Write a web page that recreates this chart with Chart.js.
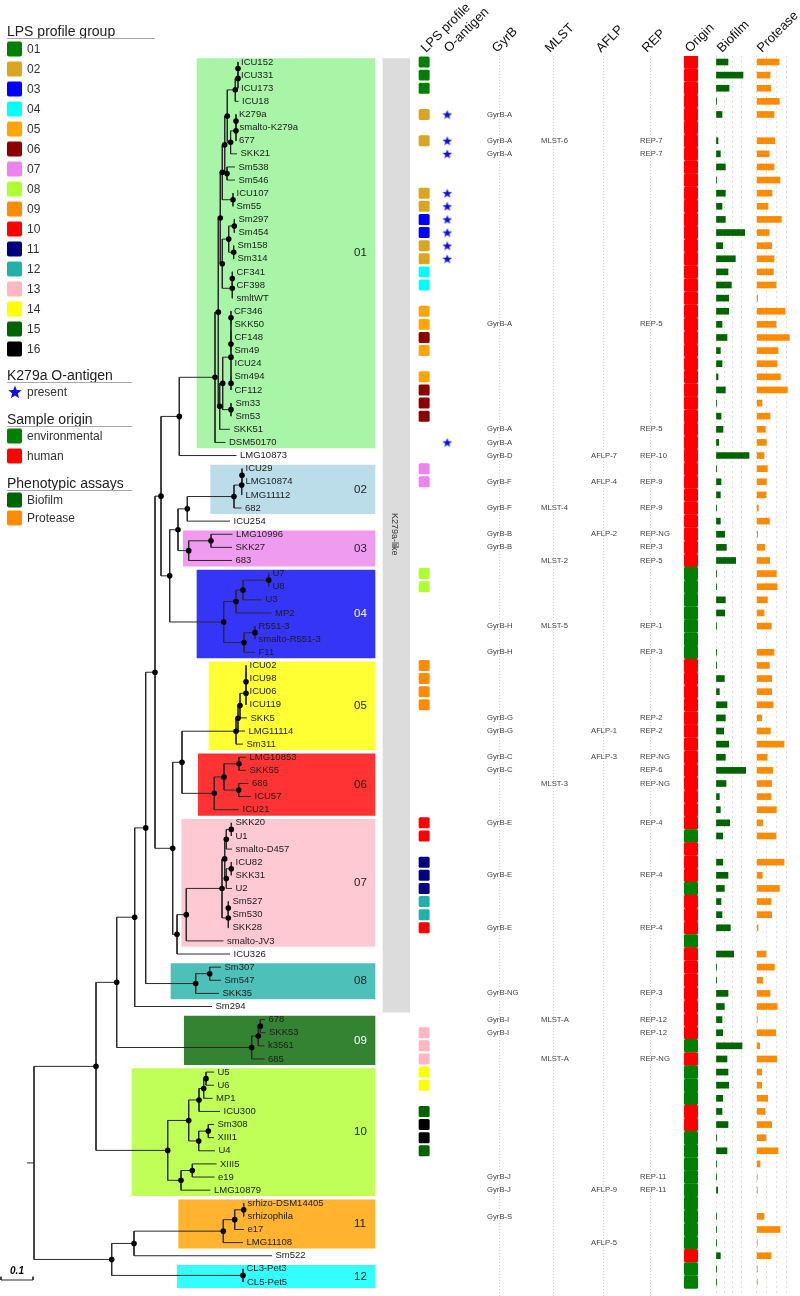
<!DOCTYPE html>
<html>
<head>
<meta charset="utf-8">
<title>Stenotrophomonas phylogeny</title>
<script src="https://cdn.jsdelivr.net/npm/chart.js@4"></script>
<style>
  html, body { margin: 0; padding: 0; background: #fff; }
  canvas { display: block; }
</style>
</head>
<body>
<canvas id="chart" width="800" height="1296"></canvas>
<script>
// Taxa, top to bottom. Row number = index
const taxa = ['ICU152','ICU331','ICU173','ICU18','K279a','smalto-K279a','677','SKK21','Sm538','Sm546',
  'ICU107','Sm55','Sm297','Sm454','Sm158','Sm314','CF341','CF398','smltWT','CF346',
  'SKK50','CF148','Sm49','ICU24','Sm494','CF112','Sm33','Sm53','SKK51','DSM50170',
  'LMG10873','ICU29','LMG10874','LMG11112','682','ICU254','LMG10996','SKK27','683','U7',
  'U8','U3','MP2','R551-3','smalto-R551-3','F11','ICU02','ICU98','ICU06','ICU119',
  'SKK5','LMG11114','Sm311','LMG10853','SKK55','686','ICU57','ICU21','SKK20','U1',
  'smalto-D457','ICU82','SKK31','U2','Sm527','Sm530','SKK28','smalto-JV3','ICU326','Sm307',
  'Sm547','SKK35','Sm294','678','SKK53','k3561','685','U5','U6','MP1',
  'ICU300','Sm308','XIII1','U4','XIII5','e19','LMG10879','srhizo-DSM14405','srhizophila','e17',
  'LMG11108','Sm522','CL3-Pet3','CL5-Pet5'];

// Distance from the root of each tip (32 units = 0.1 on the scale bar)
const tipDepth = [203.5,203.5,203.5,204.5,201.5,202,201.5,203,201,201,
  199,199,201,201,200,200,199,199,199,196.5,
  197,197,197,197,197,197,198,198,196,191.5,
  202.5,208,208,208,207.5,196,198.5,198,198,235,
  235,228,237.5,221,221,221,212,212,212,212,
  213,211,209,212,212,214.5,217,205,198,198,
  198,198,198,198,195,195,195,189.5,196,187,
  187,185,178,231,231.5,230.5,230.5,180,180,178.5,
  186,180,180,181,182.5,180.5,176.5,210,210,210,
  209,238,209,209.5];

// Tree, as [node depth, ...children]; a plain number is a tip row
const cfPair = [197, [197, 19, 20], [197, 21, 22]];
const icuPair = [212, 46, 47];
const icuTop = [193.3, [201.3, [204, [204, 0, 1], 2], 3], [196.6, [202, [202, 4, 5], 6], 7]];
const smUpper = [190.7, icuTop, [193, 8, 9]];
const smMid = [188.3, smUpper, [199, 10, 11]];
const smLow = [188.3, [194.7, [200.3, 12, 13], [199.7, 14, 15]], [198.3, [198.3, 16, 17], 18]];
const cfComb = [197, cfPair, 23, [197, 24, 25]];
const group01 = [181, [184.3, [186.3, smMid, smLow], [185.7, [188.7, cfComb, [197, 26, 27]], 28]], 29];
const group02 = [200, [207.7, [208, 31, 32], 33], 34];
const group03 = [154.7, [177, 36, 37], 38];
const group04 = [189.7, [202, [209, [234.7, 39, 40], 41], 42], [210, [221, 43, 44], 45]];
const group05 = [202, [204, [206, [212, [212, icuPair, 48], 49], 50], 51], 52];
const group06 = [180.3, [190, [205, 53, 54], [204.7, 55, 56]], 57];
const group07 = [152.3, [188, [190.7, [192.3, [197.3, 58, 59], 60], [192.3, [197.3, 61, 62], 63]],
  [194.3, [194.3, 64, 65], 66]], 67];
const group08 = [161.7, [175.7, 69, 70], 71];
const group09 = [217.7, [224.3, [226.3, 73, 74], 75], 76];
const group10 = [133.7, [154.7, [165, [169.7, [172, 77, 78], 79], 80], [164.7, [174.3, 81, 82], 83]],
  [147, [158.3, 84, 85], 86]];
const group11 = [189.3, [200.7, [209.7, 87, 88], 89], 90];
const group12 = [209, 92, 93];
const upperTree = [127, [145.3, group01, 30], [135.7, [144, [153.3, group02, 35], group03], group04]];
const lowerTree = [138.7, [148, group05, group06], [143, group07, 68]];
const treeRoot = [0,
  [62, [82.7, [100.7, [111.7, [121, upperTree, lowerTree], group08], 72], group09], group10],
  [77.7, [100, group11, 91], group12]];
// nodes drawn without a support dot
const noDotNodes = [treeRoot, cfPair, icuPair];

// Clades
const cladeLabels = ['01','02','03','04','05','06','07','08','09','10','11','12'];
const cladeFirst = [0,31,36,39,46,53,58,69,73,77,87,92];
const cladeLast = [29,34,38,45,52,57,67,71,76,86,90,93];
const cladeStart = [163,176.7,149.3,163,175,164.3,147.7,137,150.3,98,144.7,143.3];
const cladeColors = ['#a8f5a8','#bbdde9','#ef9bef','#3535f8','#ffff33','#ff3333','#ffc9d3','#4dc1b9','#338333','#bfff58','#ffb32e','#33ffff'];

// LPS profile group
const lpsLabels = ['01','02','03','04','05','06','07','08','09','10','11','12','13','14','15','16'];
const lpsColors = ['#008000','#DAA520','#0000FF','#00FFFF','#FFA500','#8B0000','#EE82EE','#ADFF2F','#FF8C00','#FF0000','#000080','#20B2AA','#FFB6C1','#FFFF00','#006400','#000000'];
const lpsRows = [0,1,2,4,6,10,11,12,13,14,15,16,17,19,20,21,22,24,25,26,27,31,32,39,40,46,47,48,49,58,59,61,62,63,64,65,66,74,75,76,77,78,80,81,82,83];
const lpsGroups = [1,1,1,2,2,2,2,3,3,2,2,4,4,5,5,6,5,5,6,6,6,7,7,8,8,9,9,9,9,10,10,11,11,11,12,12,10,13,13,13,14,14,15,16,16,15];

// K279a O-antigen
const antigenRows = [4,6,7,10,11,12,13,14,15,29];

// Typing columns
const gyrbRows = [4,6,7,20,28,29,30,32,34,36,37,43,45,50,51,53,54,58,62,66,71,73,74,85,86,88];
const gyrbTypes = ['A','A','A','A','A','A','D','F','F','B','B','H','H','G','G','C','C','E','E','E','NG','I','I','J','J','S'];
const mlstRows = [6,34,38,43,55,73,76];
const mlstTypes = ['6','4','2','5','3','A','A'];
const aflpRows = [30,32,36,51,53,86,90];
const aflpTypes = ['7','4','2','1','3','9','5'];
const repRows = [6,7,20,28,30,32,34,36,37,38,43,45,50,51,53,54,55,58,62,66,71,73,74,76,85,86];
const repTypes = ['7','7','5','5','10','9','9','NG','3','5','1','3','2','2','NG','6','NG','4','4','4','3','12','12','NG','11','11'];

// Sample origin: everything else is human
const environmentalRows = [39,40,41,42,43,44,45,59,63,67,75,77,78,79,82,83,84,85,86,87,88,89,90,92,93];

// Phenotypic assays, one value per row
const biofilm = [36,81,39,2,18,null,6,13,28,2,28,18,28,86,20,58,36,46,38,38,
  18,33,13,18,6,28,2,15,21,8,99,2,15,13,2,13,26,31,59,2,
  2,28,26,2,null,2,1,25,10,33,28,23,38,28,89,30,10,13,41,20,
  null,20,36,25,15,18,43,null,53,2,2,36,25,18,20,78,33,36,38,20,
  18,36,2,33,2,2,5,null,2,2,2,13,2,2];
const protease = [67,40,42,68,52,null,54,37,52,70,46,34,74,37,45,52,50,58,3,85,
  58,98,64,61,71,92,16,40,26,29,22,32,29,28,5,38,3,24,39,59,
  61,32,22,44,null,52,38,45,45,49,15,41,82,31,48,45,43,59,18,58,
  null,82,17,68,43,45,4,null,28,53,18,40,61,2,57,9,60,15,15,33,
  25,45,28,64,10,2,2,null,22,70,2,43,2,2];
const biofilmTicks = [0,25,50,75];
const proteaseTicks = [0,30,60,90];

const headers = ['LPS profile','O-antigen','GyrB','MLST','AFLP','REP','Origin','Biofilm','Protease'];
const headerX = [426,449,497,550,601,647,690,722,762];

const originColors = { human: '#FF0000', environmental: '#008000' };
const assayColors = { Biofilm: '#006400', Protease: '#FF8C00' };

// layout
const font = '"Liberation Sans", Arial, sans-serif';
const rowHeight = 13.118, firstRowPx = 62, areaTop = 56, chartH = 1296;
const lpsSpan = [419, 429.3], originSpan = [684.3, 697.7], starX = 447.3;
const typeX = { gyrb: 487, mlst: 541, aflp: 591, rep: 640 };
const typeGrid = [499.3, 553.7, 603, 650.7];
const cladeRight = 341, bandSpan = [349, 375.7];
const boxAbove = 3.5 / rowHeight, boxBelow = 5.6 / rowHeight;

// Walk the tree, collecting branch segments and support dots
const branchPoints = [], nodePoints = [];
function addSegment(x1, y1, x2, y2) {
  branchPoints.push({ x: x1, y: y1 }, { x: x2, y: y2 }, { x: null, y: null });
}
function walk(n) {
  if (typeof n === 'number') return { d: tipDepth[n], y: n };
  const kids = n.slice(1).map(walk);
  const y = (kids[0].y + kids[kids.length - 1].y) / 2;
  addSegment(n[0], kids[0].y, n[0], kids[kids.length - 1].y);
  kids.forEach(k => addSegment(n[0], k.y, k.d, k.y));
  if (!noDotNodes.includes(n)) nodePoints.push({ x: n[0], y });
  return { d: n[0], y };
}
const rootY = walk(treeRoot).y;
addSegment(-7, rootY, 0, rootY);

// Scale bar
const scaleBarX = [-33, -1], scaleBarRow = 92.85;
addSegment(scaleBarX[0], scaleBarRow, scaleBarX[1], scaleBarRow);
addSegment(scaleBarX[0], scaleBarRow - 0.25, scaleBarX[0], scaleBarRow);
addSegment(scaleBarX[1], scaleBarRow - 0.25, scaleBarX[1], scaleBarRow);

function makeStar(size, color) {
  const c = document.createElement('canvas');
  c.width = c.height = size;
  const g = c.getContext('2d');
  g.fillStyle = color;
  g.beginPath();
  for (let i = 0; i < 10; i++) {
    const r = i % 2 ? size * 0.21 : size * 0.5;
    const a = -Math.PI / 2 + i * Math.PI / 5;
    g.lineTo(size / 2 + r * Math.cos(a), size / 2 + 0.5 + r * Math.sin(a));
  }
  g.closePath();
  g.fill();
  return c;
}

function rowBars(xAxisID, data, backgroundColor, barThickness, borderRadius, order) {
  return { type: 'bar', indexAxis: 'y', xAxisID, yAxisID: 'y', data, backgroundColor, barThickness, borderRadius,
    borderSkipped: false, grouped: false, order };
}

const cladeSets = cladeLabels.map((c, i) => {
  const top = cladeFirst[i] - boxAbove, bottom = cladeLast[i] + boxBelow;
  return rowBars('x', [{ x: [cladeStart[i], cladeRight], y: (top + bottom) / 2 }], cladeColors[i], (bottom - top) * rowHeight, 0, 50);
});
const bandTop = 0 - boxAbove, bandBottom = 72 + boxBelow;
const bandSet = rowBars('x', [{ x: bandSpan, y: (bandTop + bandBottom) / 2 }], '#dcdcdc', (bandBottom - bandTop) * rowHeight, 0, 50);

const datasets = [
  { type: 'scatter', xAxisID: 'col', yAxisID: 'y', order: 1, pointStyle: makeStar(10, '#0f0fee'), pointRadius: 5,
    data: antigenRows.map(r => ({ x: starX, y: r })) },
  { type: 'scatter', xAxisID: 'x', yAxisID: 'y', order: 5, pointRadius: 2.8, pointBackgroundColor: '#000', pointBorderWidth: 0,
    data: nodePoints },
  { type: 'scatter', xAxisID: 'x', yAxisID: 'y', order: 10, showLine: true, spanGaps: false, pointRadius: 0,
    borderColor: '#2a2a2a', borderWidth: 1, data: branchPoints },
  rowBars('col', lpsRows.map(r => ({ x: lpsSpan, y: r })), lpsGroups.map(g => lpsColors[g - 1]), 10.3, 1.5, 20),
  rowBars('col', taxa.map((t, r) => ({ x: originSpan, y: r })),
    taxa.map((t, r) => environmentalRows.includes(r) ? originColors.environmental : originColors.human), 12.8, 1.5, 20),
  rowBars('bio', biofilm.map((v, r) => ({ x: v, y: r })), assayColors.Biofilm, 6, 0, 20),
  rowBars('prot', protease.map((v, r) => ({ x: v, y: r })), assayColors.Protease, 6, 0, 20),
  bandSet,
  ...cladeSets
];

// hidden x axes that only place columns and draw the column guides
function guideAxis(min, max, ticks, color, dash) {
  return { type: 'linear', axis: 'x', position: 'top', min, max, offset: false,
    grid: { color, drawTicks: false, offset: false, lineWidth: 1 },
    border: { display: false, dash },
    ticks: { display: false },
    afterBuildTicks: axis => { axis.ticks = ticks.map(value => ({ value })); } };
}

const labelsPlugin = {
  id: 'labels',
  afterDatasetsDraw(chart) {
    const { ctx, scales } = chart;
    const px = scales.x, py = scales.y, col = scales.col;
    ctx.save();
    ctx.textBaseline = 'middle';
    ctx.textAlign = 'left';

    // tip labels
    ctx.fillStyle = '#1c1c1c';
    ctx.font = '9.5px ' + font;
    taxa.forEach((t, r) => ctx.fillText(t, px.getPixelForValue(tipDepth[r]) + 3.5, py.getPixelForValue(r)));

    // clade numbers
    ctx.font = '11.5px ' + font;
    cladeLabels.forEach((c, i) => {
      ctx.fillStyle = (c === '04' || c === '09') ? '#fff' : '#222';
      const mid = (cladeFirst[i] - boxAbove + cladeLast[i] + boxBelow) / 2;
      ctx.fillText(c, px.getPixelForValue(320), py.getPixelForValue(mid));
    });

    // typing columns
    ctx.fillStyle = '#444';
    ctx.font = '7.7px ' + font;
    gyrbRows.forEach((r, i) => ctx.fillText('GyrB-' + gyrbTypes[i], col.getPixelForValue(typeX.gyrb), py.getPixelForValue(r)));
    mlstRows.forEach((r, i) => ctx.fillText('MLST-' + mlstTypes[i], col.getPixelForValue(typeX.mlst), py.getPixelForValue(r)));
    aflpRows.forEach((r, i) => ctx.fillText('AFLP-' + aflpTypes[i], col.getPixelForValue(typeX.aflp), py.getPixelForValue(r)));
    repRows.forEach((r, i) => ctx.fillText('REP-' + repTypes[i], col.getPixelForValue(typeX.rep), py.getPixelForValue(r)));

    // band label
    ctx.save();
    ctx.translate(col.getPixelForValue(394), py.getPixelForValue(36));
    ctx.rotate(Math.PI / 2);
    ctx.textAlign = 'center';
    ctx.fillStyle = '#333';
    ctx.font = '9px ' + font;
    ctx.fillText('K279a-like', 0, 0);
    ctx.restore();

    // column headers
    ctx.fillStyle = '#111';
    ctx.font = '13px ' + font;
    ctx.textBaseline = 'alphabetic';
    headers.forEach((h, i) => {
      ctx.save();
      ctx.translate(col.getPixelForValue(headerX[i]), 53);
      ctx.rotate(-Math.PI / 4);
      ctx.fillText(h, 0, 0);
      ctx.restore();
    });

    // scale bar caption
    ctx.font = 'italic bold 10px ' + font;
    ctx.textAlign = 'center';
    ctx.fillStyle = '#000';
    ctx.textBaseline = 'middle';
    ctx.fillText('0.1', 17, 1271);

    drawLegend(ctx);
    ctx.restore();
  }
};

function legendTitle(ctx, text, baseline, right) {
  ctx.fillStyle = '#222';
  ctx.font = '14px ' + font;
  ctx.textBaseline = 'alphabetic';
  ctx.textAlign = 'left';
  ctx.fillText(text, 7, baseline);
  ctx.strokeStyle = '#aaa';
  ctx.lineWidth = 1;
  ctx.beginPath();
  ctx.moveTo(7, baseline + 2.5);
  ctx.lineTo(right, baseline + 2.5);
  ctx.stroke();
}
function legendSwatch(ctx, color, text, cy) {
  ctx.fillStyle = color;
  ctx.beginPath();
  ctx.roundRect(7, cy - 7.5, 15, 15, 2);
  ctx.fill();
  ctx.fillStyle = '#333';
  ctx.font = '12px ' + font;
  ctx.textBaseline = 'middle';
  ctx.fillText(text, 27, cy + 0.5);
}
function drawLegend(ctx) {
  legendTitle(ctx, 'LPS profile group', 36, 155);
  lpsLabels.forEach((l, i) => legendSwatch(ctx, lpsColors[i], l, 49 + i * 20));
  legendTitle(ctx, 'K279a O-antigen', 380, 132);
  ctx.drawImage(makeStar(14, '#0f0fee'), 8, 385);
  ctx.fillStyle = '#333';
  ctx.font = '12px ' + font;
  ctx.textBaseline = 'middle';
  ctx.fillText('present', 27, 393);
  legendTitle(ctx, 'Sample origin', 424, 132);
  legendSwatch(ctx, originColors.environmental, 'environmental', 436);
  legendSwatch(ctx, originColors.human, 'human', 456);
  legendTitle(ctx, 'Phenotypic assays', 488, 132);
  legendSwatch(ctx, assayColors.Biofilm, 'Biofilm', 500);
  legendSwatch(ctx, assayColors.Protease, 'Protease', 518);
}

new Chart(document.getElementById('chart'), {
  type: 'scatter',
  data: { datasets },
  plugins: [labelsPlugin],
  options: {
    responsive: false,
    animation: false,
    devicePixelRatio: 1,
    layout: { autoPadding: false, padding: { top: areaTop, left: 0, right: 0, bottom: 0 } },
    plugins: { legend: { display: false }, tooltip: { enabled: false } },
    scales: {
      x: { type: 'linear', axis: 'x', display: false, min: -34, max: 766, offset: false },
      y: { type: 'linear', axis: 'y', display: false, reverse: true, offset: false,
        min: (areaTop - firstRowPx) / rowHeight, max: (chartH - firstRowPx) / rowHeight },
      col: guideAxis(0, 800, typeGrid, '#cfcfcf', [1, 2]),
      bio: guideAxis(-716 * 3, 84 * 3, biofilmTicks, '#dddddd', [2, 3]),
      prot: guideAxis(-756.7 * 3, 43.3 * 3, proteaseTicks, '#dddddd', [2, 3])
    }
  }
});
</script>
</body>
</html>
